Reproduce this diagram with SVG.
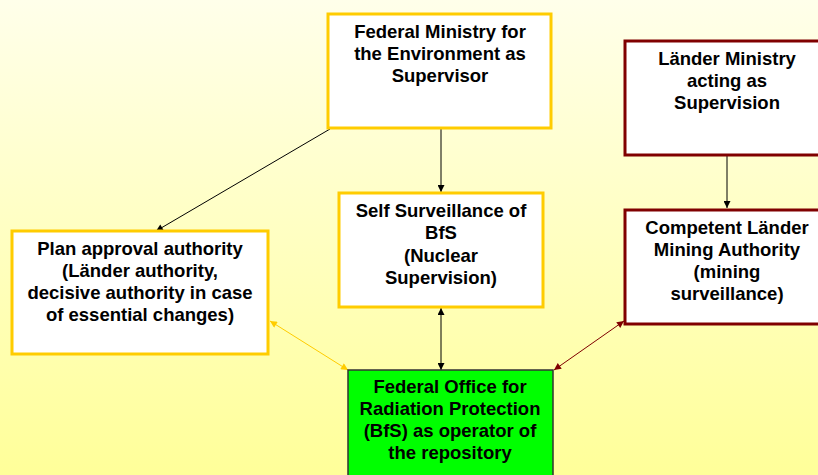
<svg xmlns="http://www.w3.org/2000/svg" width="818" height="475" viewBox="0 0 818 475">
<defs>
<linearGradient id="bg" x1="0" y1="0" x2="0" y2="1">
<stop offset="0" stop-color="#FFFFEA"/>
<stop offset="1" stop-color="#FFFF99"/>
</linearGradient>
<marker id="ak" viewBox="0 0 10 10" refX="10" refY="5" markerWidth="9" markerHeight="7" markerUnits="userSpaceOnUse" orient="auto-start-reverse"><path d="M0,0 L10,5 L0,10 z" fill="#000"/></marker>
<marker id="ay" viewBox="0 0 10 10" refX="10" refY="5" markerWidth="9" markerHeight="7" markerUnits="userSpaceOnUse" orient="auto-start-reverse"><path d="M0,0 L10,5 L0,10 z" fill="#FFCC00"/></marker>
<marker id="ar" viewBox="0 0 10 10" refX="10" refY="5" markerWidth="9" markerHeight="7" markerUnits="userSpaceOnUse" orient="auto-start-reverse"><path d="M0,0 L10,5 L0,10 z" fill="#800000"/></marker>
</defs>
<style>
.y{fill:#FFFFFF;stroke:#FFCC00;stroke-width:3}
.r{fill:#FFFFFF;stroke:#800000;stroke-width:3}
.g{fill:#00FF00;stroke:#333333;stroke-width:1.5}
text{font-family:"Liberation Sans",Arial,sans-serif;font-weight:bold;font-size:18.5px;fill:#000;text-anchor:middle}
.c{fill:none;stroke-width:1}
</style>
<rect x="0" y="0" width="818" height="475" fill="url(#bg)"/>
<g id="connectors">
<line class="c" x1="330" y1="129" x2="156" y2="231" stroke="#000" marker-end="url(#ak)"/>
<line class="c" x1="441" y1="129" x2="441" y2="192" stroke="#000" marker-end="url(#ak)"/>
<line class="c" x1="727" y1="156" x2="727" y2="208" stroke="#000" marker-end="url(#ak)"/>
<line class="c" x1="441" y1="308" x2="441" y2="370" stroke="#000" marker-start="url(#ak)" marker-end="url(#ak)"/>
<line class="c" x1="270" y1="321" x2="348" y2="370" stroke="#FFCC00" marker-start="url(#ay)" marker-end="url(#ay)"/>
<line class="c" x1="624" y1="321" x2="554" y2="370" stroke="#800000" marker-start="url(#ar)" marker-end="url(#ar)"/>
</g>
<g id="bmu">
<rect class="y" x="328" y="14" width="223" height="114"/>
<text x="440" y="38">Federal Ministry for</text>
<text x="440" y="60">the Environment as</text>
<text x="440" y="82">Supervisor</text>
</g>
<g id="laender-ministry">
<rect class="r" x="625" y="41" width="206" height="114"/>
<text x="727" y="65">Länder Ministry</text>
<text x="727" y="87">acting as</text>
<text x="727" y="109">Supervision</text>
</g>
<g id="self-surveillance">
<rect class="y" x="339" y="193" width="204" height="114"/>
<text x="441" y="217">Self Surveillance of</text>
<text x="441" y="239">BfS</text>
<text x="441" y="262">(Nuclear</text>
<text x="441" y="284">Supervision)</text>
</g>
<g id="plan-approval">
<rect class="y" x="12" y="231" width="256" height="123"/>
<text x="140" y="255">Plan approval authority</text>
<text x="140" y="277">(Länder authority,</text>
<text x="140" y="299">decisive authority in case</text>
<text x="140" y="321">of essential changes)</text>
</g>
<g id="mining-authority">
<rect class="r" x="625" y="210" width="206" height="114"/>
<text x="727" y="234">Competent Länder</text>
<text x="727" y="256">Mining Authority</text>
<text x="727" y="278">(mining</text>
<text x="727" y="300">surveillance)</text>
</g>
<g id="bfs">
<rect class="g" x="348" y="370" width="205" height="120"/>
<text x="450" y="393">Federal Office for</text>
<text x="450" y="415">Radiation Protection</text>
<text x="450" y="437">(BfS) as operator of</text>
<text x="450" y="459">the repository</text>
</g>
</svg>
